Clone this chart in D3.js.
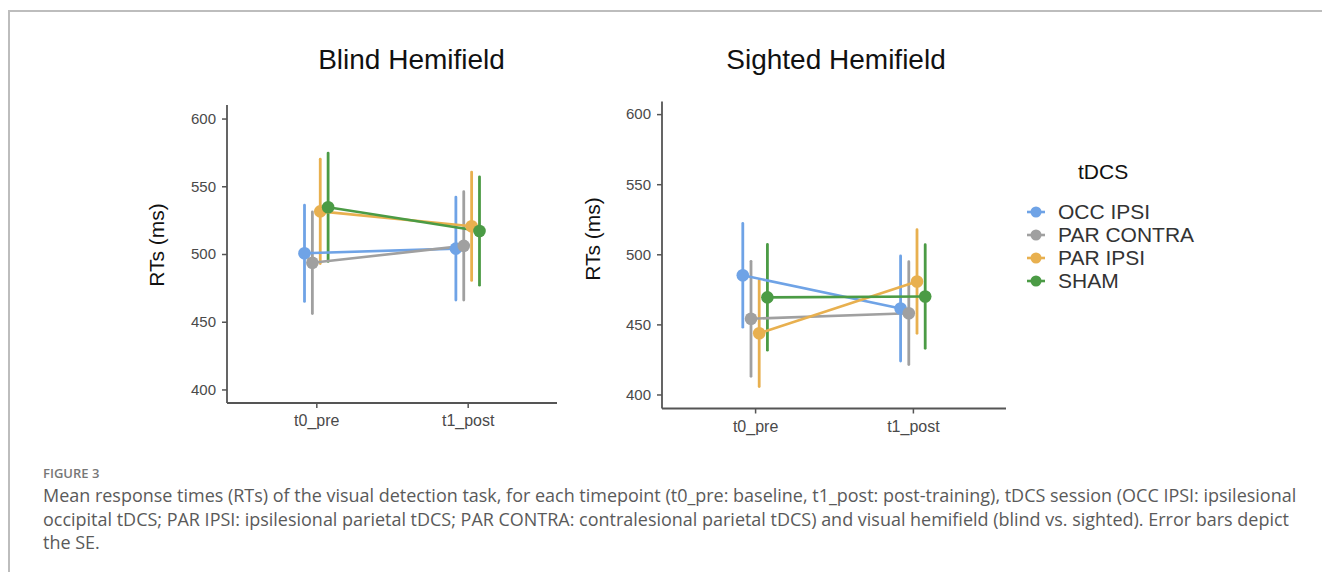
<!DOCTYPE html>
<html>
<head>
<meta charset="utf-8">
<script src="https://cdn.jsdelivr.net/npm/d3@7"></script>
<style>
  html, body { margin: 0; padding: 0; background: #fff; }
  svg { display: block; }
</style>
</head>
<body>
<svg id="chart" width="1322" height="576"></svg>
<script>
// ---------------- data ----------------
const timepoints = ["t0_pre", "t1_post"];
const sessions = ["OCC IPSI", "PAR CONTRA", "PAR IPSI", "SHAM"];
const sessionColors = ["#6fa3e6", "#a0a0a0", "#e8b04f", "#4b9b45"];
const yTicks = [400, 450, 500, 550, 600];

// Blind hemifield: mean RT per session [t0_pre, t1_post]
const blindOccIpsi   = [500.5, 504];
const blindParContra = [493.5, 506];
const blindParIpsi   = [531.5, 520.5];
const blindSham      = [534.5, 517];
// Blind hemifield: SE
const blindOccIpsiSE   = [35.5, 38];
const blindParContraSE = [37.5, 40];
const blindParIpsiSE   = [38.5, 40];
const blindShamSE      = [40, 40];

// Sighted hemifield: mean RT
const sightedOccIpsi   = [485, 461.3];
const sightedParContra = [454, 458];
const sightedParIpsi   = [443.7, 480.6];
const sightedSham      = [469.3, 469.9];
// Sighted hemifield: SE
const sightedOccIpsiSE   = [37, 37.5];
const sightedParContraSE = [41, 36.7];
const sightedParIpsiSE   = [38, 37];
const sightedShamSE      = [37.7, 37];

const captionLabel = "FIGURE 3";
const captionLines = [
  "Mean response times (RTs) of the visual detection task, for each timepoint (t0_pre: baseline, t1_post: post-training), tDCS session (OCC IPSI: ipsilesional",
  "occipital tDCS; PAR IPSI: ipsilesional parietal tDCS; PAR CONTRA: contralesional parietal tDCS) and visual hemifield (blind vs. sighted). Error bars depict",
  "the SE."
];

// ---------------- drawing ----------------
const svg = d3.select("#chart");
const FONT = "'Liberation Sans', Arial, sans-serif";

// frame
svg.append("line").attr("x1", 8).attr("x2", 1322).attr("y1", 11).attr("y2", 11)
  .attr("stroke", "#bdbdbd").attr("stroke-width", 2);
svg.append("line").attr("x1", 9).attr("x2", 9).attr("y1", 10).attr("y2", 572)
  .attr("stroke", "#bdbdbd").attr("stroke-width", 2);

function panel(cfg) {
  const { title, titleX, means, ses, xRange, yRange, yDomain, ylabX, ylabY } = cfg;
  const g = svg.append("g");
  const x = d3.scalePoint().domain(timepoints).range(xRange).padding(0.59);
  const y = d3.scaleLinear().domain(yDomain).range(yRange);
  const step = x.step();
  const dodge = i => (i - (sessions.length - 1) / 2) * 0.052 * step;

  // axes
  const yAxis = g.append("g").attr("transform", `translate(${xRange[0]},0)`)
    .call(d3.axisLeft(y).tickValues(yTicks).tickSize(5).tickPadding(6).tickFormat(d3.format("d")));
  const xAxis = g.append("g").attr("transform", `translate(0,${yRange[0]})`)
    .call(d3.axisBottom(x).tickSize(5).tickPadding(7));
  [yAxis, xAxis].forEach(a => {
    a.select(".domain").attr("stroke", "#555").attr("stroke-width", 1.8);
    a.selectAll(".tick line").attr("stroke", "#555").attr("stroke-width", 1.5);
    a.selectAll(".tick text").attr("fill", "#4a4a4a").style("font-family", FONT).style("font-size", "15px");
  });
  yAxis.select(".domain").attr("d", `M0,${yRange[0]}V${yRange[1]}`);
  xAxis.select(".domain").attr("d", `M${xRange[0]},0H${xRange[1]}`);
  xAxis.selectAll(".tick text").style("font-size", "16px");

  // title
  g.append("text").attr("x", titleX).attr("y", 69).attr("text-anchor", "middle")
    .style("font-family", FONT).style("font-size", "28px").attr("fill", "#111").text(title);
  // y label
  g.append("text").attr("transform", `translate(${ylabX},${ylabY}) rotate(-90)`)
    .attr("text-anchor", "middle").style("font-family", FONT).style("font-size", "21px")
    .attr("fill", "#111").text("RTs (ms)");

  const line = d3.line().x(d => d[0]).y(d => d[1]);
  // error bars
  sessions.forEach((s, i) => {
    timepoints.forEach((t, j) => {
      const cx = x(t) + dodge(i);
      g.append("line").attr("x1", cx).attr("x2", cx)
        .attr("y1", y(means[i][j] - ses[i][j])).attr("y2", y(means[i][j] + ses[i][j]))
        .attr("stroke", sessionColors[i]).attr("stroke-width", 2.8).attr("stroke-linecap", "round");
    });
  });
  // connecting lines
  sessions.forEach((s, i) => {
    const pts = timepoints.map((t, j) => [x(t) + dodge(i), y(means[i][j])]);
    g.append("path").attr("d", line(pts)).attr("fill", "none")
      .attr("stroke", sessionColors[i]).attr("stroke-width", 2.6);
  });
  // points
  sessions.forEach((s, i) => {
    timepoints.forEach((t, j) => {
      g.append("circle").attr("cx", x(t) + dodge(i)).attr("cy", y(means[i][j]))
        .attr("r", 6.3).attr("fill", sessionColors[i]);
    });
  });
}

panel({
  title: "Blind Hemifield", titleX: 411.5,
  means: [blindOccIpsi, blindParContra, blindParIpsi, blindSham],
  ses: [blindOccIpsiSE, blindParContraSE, blindParIpsiSE, blindShamSE],
  xRange: [227, 557], yRange: [403, 105], yDomain: [390, 610],
  ylabX: 164, ylabY: 245
});
panel({
  title: "Sighted Hemifield", titleX: 836,
  means: [sightedOccIpsi, sightedParContra, sightedParIpsi, sightedSham],
  ses: [sightedOccIpsiSE, sightedParContraSE, sightedParIpsiSE, sightedShamSE],
  xRange: [662, 1006], yRange: [408.5, 101.5], yDomain: [390, 609],
  ylabX: 600, ylabY: 239
});

// legend
const lg = svg.append("g");
lg.append("text").attr("x", 1078).attr("y", 179).style("font-family", FONT)
  .style("font-size", "21px").attr("fill", "#111").text("tDCS");
sessions.forEach((s, i) => {
  const cy = 212 + i * 23;
  lg.append("line").attr("x1", 1027).attr("x2", 1045).attr("y1", cy).attr("y2", cy)
    .attr("stroke", sessionColors[i]).attr("stroke-width", 2.6);
  lg.append("circle").attr("cx", 1036).attr("cy", cy).attr("r", 5.5).attr("fill", sessionColors[i]);
  lg.append("text").attr("x", 1058).attr("y", cy + 7).style("font-family", FONT)
    .style("font-size", "21px").attr("fill", "#333").text(s);
});

// caption
const CAPFONT = "'Open Sans', 'Noto Sans', sans-serif";
svg.append("text").attr("x", 43).attr("y", 478).style("font-family", CAPFONT)
  .style("font-size", "13px").style("font-weight", 600).attr("fill", "#777").text(captionLabel);
const capBaselines = [502, 525.5, 549];
const capTexts = captionLines.map((t, i) =>
  svg.append("text").attr("x", 43).attr("y", capBaselines[i]).style("font-family", CAPFONT)
    .style("font-size", "15px").attr("fill", "#5a5a5a").text(t));
const w0 = capTexts[0].node().getComputedTextLength();
const fs = 15 * 1254 / w0;
capTexts.forEach(t => t.style("font-size", fs + "px"));
</script>
</body>
</html>
